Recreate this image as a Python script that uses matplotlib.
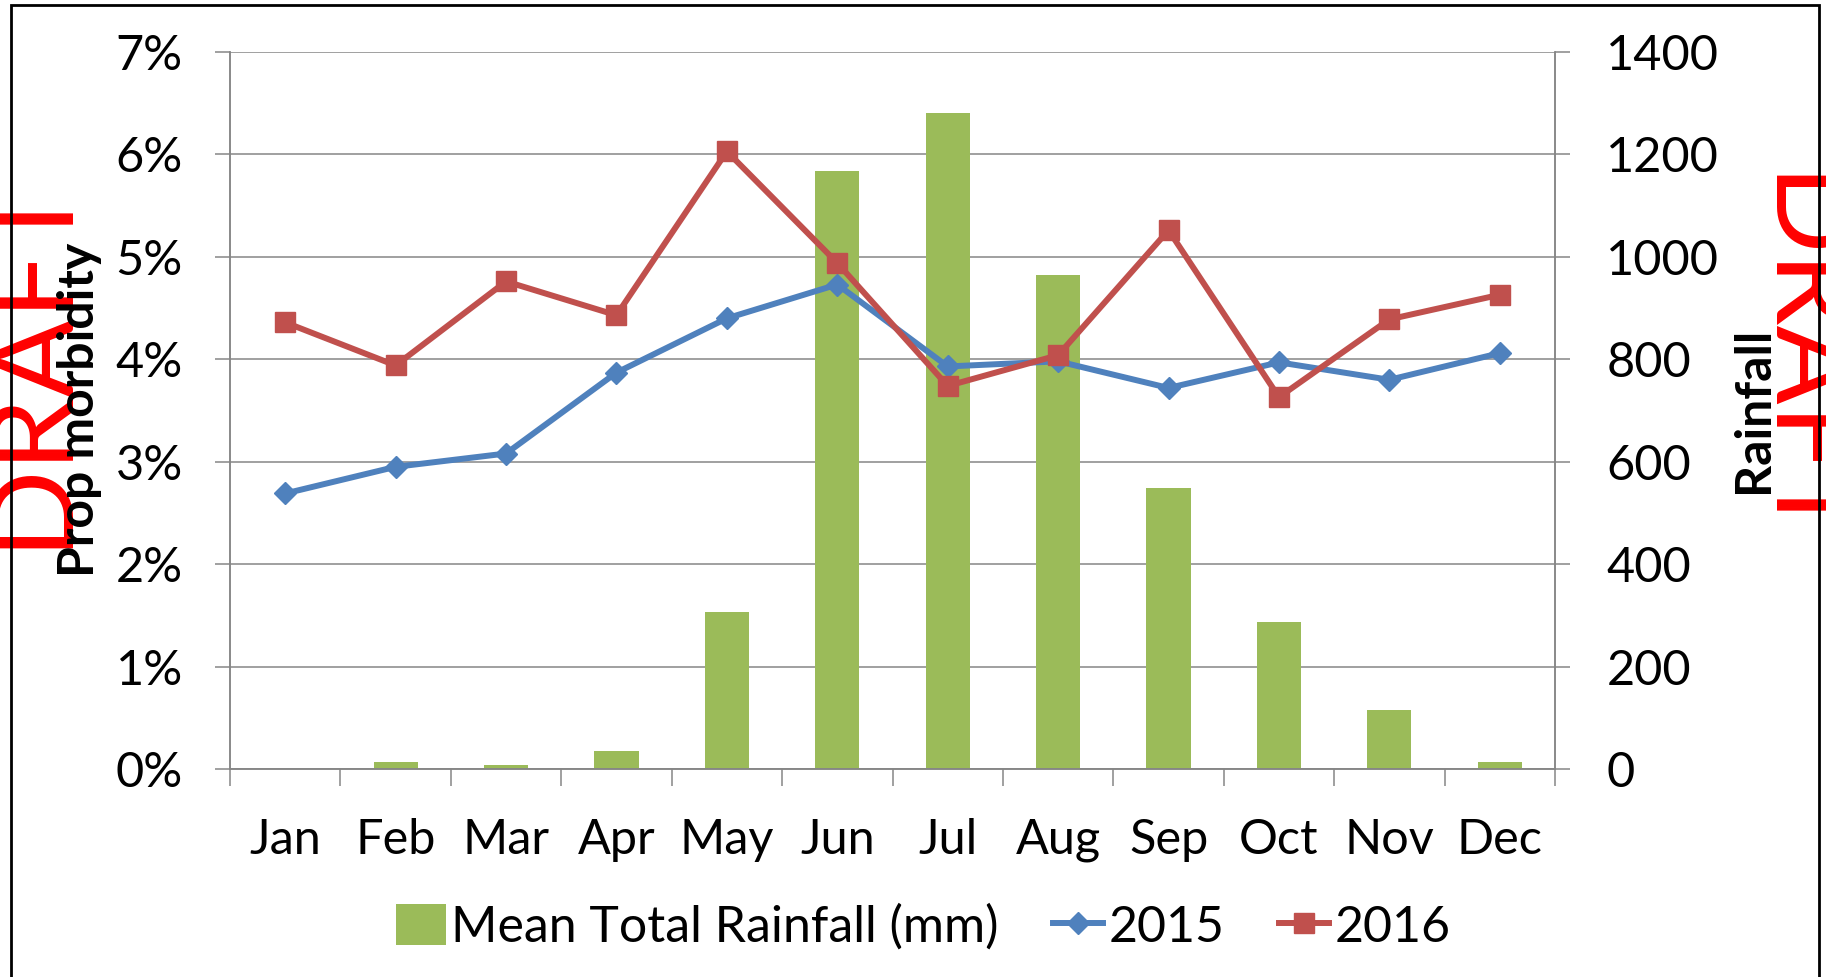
#!/usr/bin/env python3
"""
Monthly proportion of morbidity (2015, 2016) against mean total rainfall.
"""

import matplotlib

matplotlib.use("Agg")

import matplotlib.pyplot as plt
from matplotlib.lines import Line2D
from matplotlib.patches import Patch, Rectangle
from matplotlib.ticker import FixedLocator, PercentFormatter


MONTHS = ["Jan", "Feb", "Mar", "Apr", "May", "Jun",
          "Jul", "Aug", "Sep", "Oct", "Nov", "Dec"]

RAINFALL_MM = [0, 14, 8, 35, 307, 1168, 1280, 965, 549, 288, 116, 14]

PROP_2015 = [2.69, 2.95, 3.08, 3.87, 4.40, 4.73,
             3.93, 3.98, 3.72, 3.97, 3.80, 4.06]
PROP_2016 = [4.36, 3.94, 4.76, 4.43, 6.03, 4.94,
             3.74, 4.04, 5.26, 3.63, 4.39, 4.63]

PCT_TICKS = [0, 1, 2, 3, 4, 5, 6, 7]
RAIN_TICKS = [0, 200, 400, 600, 800, 1000, 1200, 1400]

GREEN = "#9BBB59"
BLUE = "#4F81BD"
RED = "#C0504D"
GRID = "#868686"

FONT = "Lato"
FS = 35
FS_LEGEND = 36
FS_LABEL = 36

W, H = 1826, 977


def main():
    plt.rcParams["font.family"] = [FONT, "DejaVu Sans"]

    fig = plt.figure(figsize=(W / 100, H / 100), dpi=100)

    left, right, top, bottom = 230, 1555, 52, 769
    rect = [left / W, 1 - bottom / H, (right - left) / W, (bottom - top) / H]

    ax = fig.add_axes(rect)
    ax_rain = ax.twinx()
    ax.set_zorder(ax_rain.get_zorder() + 1)
    ax.patch.set_visible(False)

    x = list(range(len(MONTHS)))

    # rainfall bars + gridlines on the lower axis
    ax_rain.bar(x, RAINFALL_MM, width=0.4, color=GREEN, zorder=2)
    ax_rain.set_ylim(0, 1400)
    ax_rain.yaxis.set_major_locator(FixedLocator(RAIN_TICKS))
    ax_rain.grid(axis="y", color=GRID, linewidth=1.1, zorder=0)
    ax_rain.set_axisbelow(True)
    ax_rain.tick_params(axis="y", direction="out", length=11, width=1.1,
                        color=GRID, pad=26, labelsize=FS)

    # morbidity lines on the top axis
    ax.plot(x, PROP_2015, color=BLUE, linewidth=4.3, marker="D",
            markersize=11, label="2015", zorder=3)
    ax.plot(x, PROP_2016, color=RED, linewidth=4.3, marker="s",
            markersize=14, label="2016", zorder=3)
    ax.set_ylim(0, 7)
    ax.yaxis.set_major_locator(FixedLocator(PCT_TICKS))
    ax.yaxis.set_major_formatter(PercentFormatter(100, decimals=0))
    ax.tick_params(axis="y", direction="out", length=11, width=1.1,
                   color=GRID, pad=23, labelsize=FS)

    ax.set_xlim(-0.5, len(MONTHS) - 0.5)
    ax.set_xticks(x)
    ax.set_xticklabels(MONTHS)
    ax.set_xticks([i - 0.5 for i in range(len(MONTHS) + 1)], minor=True)
    ax.tick_params(axis="x", which="major", length=0, pad=35, labelsize=FS)
    ax.tick_params(axis="x", which="minor", direction="out", length=12,
                   width=1.1, color=GRID)
    ax_rain.tick_params(axis="x", which="both", length=0)

    for a in (ax, ax_rain):
        a.spines["top"].set_visible(False)
        for side in ("left", "right", "bottom"):
            a.spines[side].set_color(GRID)
            a.spines[side].set_linewidth(1.1)

    # watermark, behind everything
    fig.text(31 / W, 1 - 360 / H, "DRAFT", rotation=90, color="#FF0000",
             fontsize=84, ha="center", va="center", zorder=-1)
    fig.text(1798 / W, 1 - 362 / H, "DRAFT", rotation=-90, color="#FF0000",
             fontsize=84, ha="center", va="center", zorder=-1)

    fig.text(80 / W, 1 - 410 / H, "Prop morbidity", rotation=90,
             fontsize=FS_LABEL, fontweight="bold", ha="center", va="center",
             zorder=5)
    fig.text(1753 / W, 1 - 410 / H, "Rainfall", rotation=90,
             fontsize=FS_LABEL, fontweight="bold", ha="center", va="center",
             zorder=5)

    handles = [
        Patch(facecolor=GREEN, label="Mean Total Rainfall (mm)"),
        Line2D([], [], color=BLUE, linewidth=4.3, marker="D",
               markersize=11, label="2015"),
        Line2D([], [], color=RED, linewidth=4.3, marker="s",
               markersize=14, label="2016"),
    ]
    fig.legend(handles=handles, loc="center",
               bbox_to_anchor=(923 / W, 1 - 927 / H), ncol=3,
               frameon=False, fontsize=FS_LEGEND, handlelength=1.0,
               handleheight=0.9, handletextpad=0.1, columnspacing=1.1)

    # chart border
    fig.patches.append(Rectangle((11 / W, -0.05), (1819 - 11) / W,
                                 1.05 - 5 / H, transform=fig.transFigure,
                                 fill=False, edgecolor="black",
                                 linewidth=2, zorder=20))

    fig.savefig("out.png", dpi=100)
    plt.close(fig)


if __name__ == "__main__":
    main()
